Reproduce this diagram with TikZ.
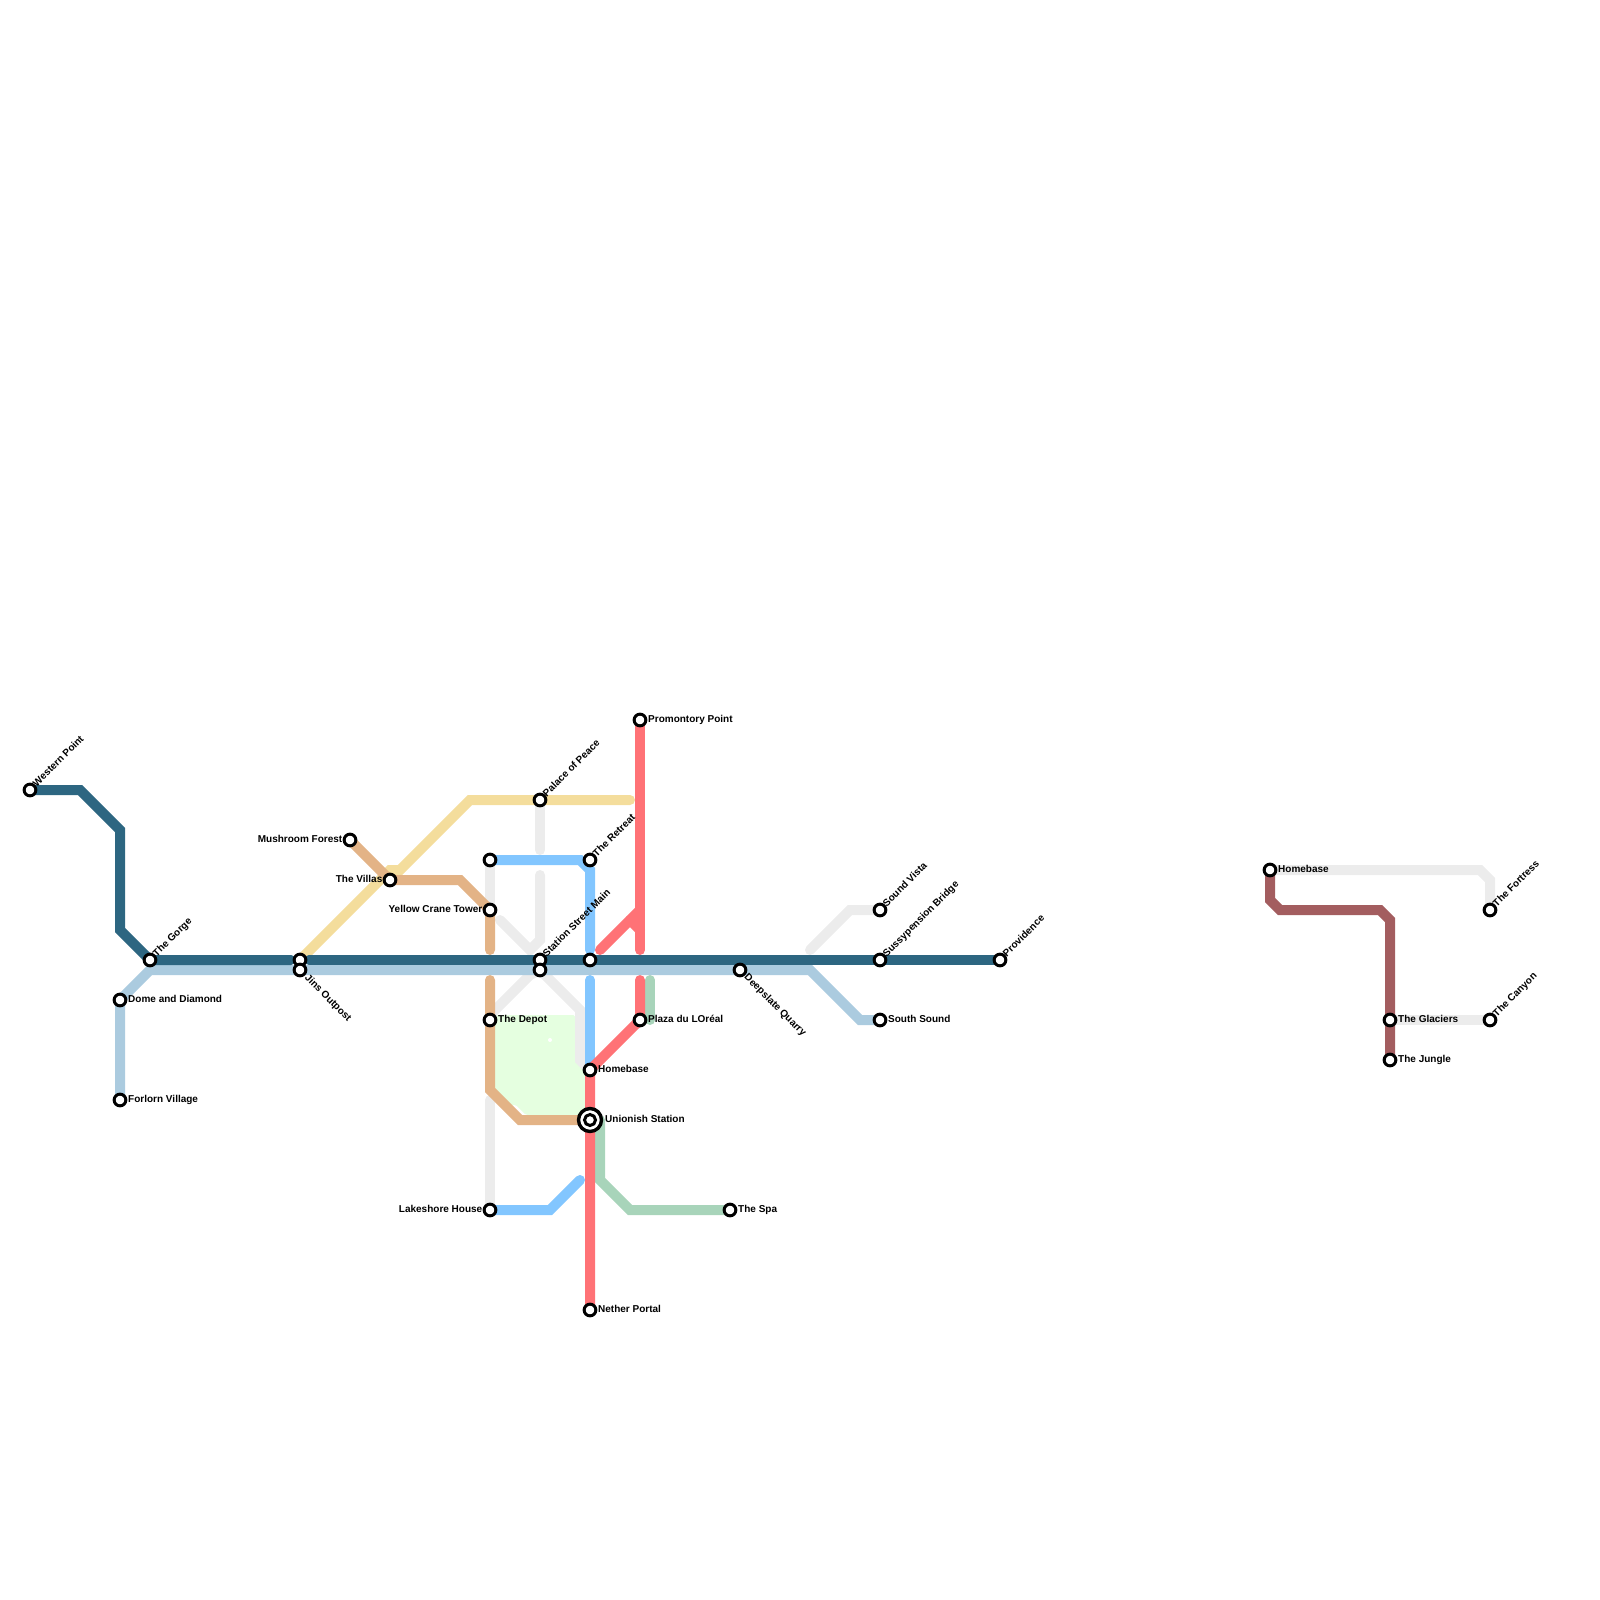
\documentclass[tikz,border=0pt]{standalone}
\usepackage{fontspec}
\setmainfont{Liberation Sans}
\definecolor{cteal}{HTML}{2D6681}
\definecolor{clblue}{HTML}{ABCBDF}
\definecolor{cyellow}{HTML}{F4DD9C}
\definecolor{corange}{HTML}{E3B386}
\definecolor{cgray}{HTML}{ECECEC}
\definecolor{cblue}{HTML}{82C6FF}
\definecolor{cred}{HTML}{FF7276}
\definecolor{cgreen}{HTML}{A8D4BA}
\definecolor{cbrown}{HTML}{A35D5F}
\definecolor{cmint}{HTML}{E5FFE0}
\tikzset{
 ln/.style={line width=10pt,line cap=round,line join=miter},
 st/.style={circle,draw=black,fill=white,line width=3pt,minimum size=11.7pt,inner sep=0pt},
 lab/.style={font=\bfseries\fontsize{10pt}{10pt}\selectfont,text=black,inner sep=0pt,text height=7pt,text depth=2pt},
 lr/.style={lab,anchor=west},
 ll/.style={lab,anchor=east},
 lu/.style={lab,anchor=west,rotate=45},
 ld/.style={lab,anchor=west,rotate=-45},
}
\begin{document}
\begin{tikzpicture}[x=1pt,y=-1pt]
\useasboundingbox (0,0) rectangle (1600,1600);
\path
 (30,790) coordinate (western) (150,960) coordinate (gorge) (300,960) coordinate (jinsA) (300,970) coordinate (jins)
 (540,960) coordinate (ssm) (540,970) coordinate (ssmB) (590,960) coordinate (sx) (590,860) coordinate (retreat)
 (640,720) coordinate (prom) (590,1070) coordinate (home) (590,1120) coordinate (union) (590,1310) coordinate (nether)
 (490,1210) coordinate (lake) (490,1020) coordinate (depot) (490,910) coordinate (crane) (490,860) coordinate (nw)
 (390,880) coordinate (villas) (350,840) coordinate (mush) (540,800) coordinate (palace) (640,1020) coordinate (plaza)
 (730,1210) coordinate (spa) (740,970) coordinate (deep) (880,910) coordinate (sound) (880,960) coordinate (suss)
 (880,1020) coordinate (south) (1000,960) coordinate (prov) (1270,870) coordinate (home2) (1490,910) coordinate (fort)
 (1390,1020) coordinate (glac) (1390,1060) coordinate (jung) (1490,1020) coordinate (cany) (120,1000) coordinate (dome)
 (120,1100) coordinate (forlorn);
% mint area
\fill[cmint,rounded corners=1.5pt] (495,1015) -- (575,1015) -- (575,1060) -- (585,1070) -- (585,1115) -- (526,1115) -- (516,1105) -- (502,1105) -- (495,1098) -- cycle;
\fill[white] (550,1040) circle (2pt);
% gray lines
\draw[ln,cgray] (nw) -- (crane);
\draw[ln,cgray] (500,920) -- (530,950) -- (540,940) -- (540,875);
\draw[ln,cgray] (palace) -- (540,850);
\draw[ln,cgray] (490,1015) -- (530,975) -- (ssmB) -- (580,1010) -- (580,1060) -- (home);
\draw[ln,cgray] (490,1100) -- (lake);
\draw[ln,cgray] (810,950) -- (850,910) -- (sound);
\draw[ln,cgray] (home2) -- (1480,870) -- (1490,880) -- (fort);
\draw[ln,cgray] (glac) -- (cany);
% yellow
\draw[ln,cyellow] (jinsA) -- (390,870) -- (400,870) -- (470,800) -- (630,800);
% orange
\draw[ln,corange] (mush) -- (villas) -- (460,880) -- (crane) -- (490,950);
\draw[ln,corange] (490,980) -- (depot) -- (490,1090) -- (520,1120) -- (union);
% green
\draw[ln,cgreen] (650,980) -- (650,1020);
\draw[ln,cgreen] (600,1120) -- (600,1180) -- (630,1210) -- (spa);
% blue
\draw[ln,cblue] (nw) -- (580,860) -- (590,870) -- (590,950);
\draw[ln,cblue] (590,980) -- (home);
\draw[ln,cblue] (lake) -- (550,1210) -- (580,1180);
% red
\draw[ln,cred] (prom) -- (640,950);
\draw[ln,cred] (600,950) -- (640,910);
\draw[ln,cred] (630,920) -- (640,930);
\draw[ln,cred] (640,980) -- (plaza) -- (home) -- (nether);
% light blue
\draw[ln,clblue,line cap=butt] (forlorn) -- (dome) -- (150,970) -- (810,970) -- (860,1020) -- (south);
% teal
\draw[ln,cteal,line cap=butt] (western) -- (80,790) -- (120,830) -- (120,930) -- (gorge) -- (291,960);
\draw[ln,cteal,line cap=butt] (309,960) -- (prov);
\fill[cteal] (291,960) circle (5pt) (309,960) circle (5pt);
% brown
\draw[ln,cbrown,line cap=butt] (home2) -- (1270,900) -- (1280,910) -- (1380,910) -- (1390,920) -- (jung);
% stations
\foreach \n/\c in {western/a,gorge/b,jinsA/c,jins/d,ssm/e,ssmB/f,sx/g,retreat/h,prom/i,home/j,nether/k,lake/l,depot/m,crane/n,nw/o,villas/p,mush/q,palace/r,plaza/s,spa/t,deep/u,sound/v,suss/w,south/x,prov/y,home2/z,fort/aa,glac/ab,jung/ac,cany/ad,dome/ae,forlorn/af}
  \node[st] (n\c) at (\n) {};
\node[circle,draw=black,fill=white,line width=3.4pt,minimum size=23pt,inner sep=0pt] (unionO) at (union) {};
\node[st,minimum size=11pt] (unionI) at (union) {};
% labels
\node[lu] (tWestern) at (35,785.5) {Western Point};
\node[lu] (tGorge) at (155,955.5) {The Gorge};
\node[ld] (tJins) at (306,976.5) {Jins Outpost};
\node[lr] (tDome) at (128,1000) {Dome and Diamond};
\node[lr] (tForlorn) at (128,1100) {Forlorn Village};
\node[ll] (tMush) at (342.5,840) {Mushroom Forest};
\node[ll] (tVillas) at (382.5,880) {The Villas};
\node[ll] (tCrane) at (482.5,910) {Yellow Crane Tower};
\node[lr] (tDepot) at (498,1020) {The Depot};
\node[ll] (tLake) at (482.5,1210) {Lakeshore House};
\node[lu] (tPalace) at (545,795.5) {Palace of Peace};
\node[lu] (tRetreat) at (595,855.5) {The Retreat};
\node[lu] (tSsm) at (545,955.5) {Station Street Main};
\node[lr] (tProm) at (648,720) {Promontory Point};
\node[lr] (tPlaza) at (648,1020) {Plaza du LOréal};
\node[lr] (tHome) at (598,1070) {Homebase};
\node[lr] (tUnion) at (605,1120) {Unionish Station};
\node[lr] (tNether) at (598,1310) {Nether Portal};
\node[lr] (tSpa) at (738,1210) {The Spa};
\node[ld] (tDeep) at (745.5,976) {Deepslate Quarry};
\node[lu] (tSound) at (885,905.5) {Sound Vista};
\node[lu] (tSuss) at (885,955.5) {Sussypension Bridge};
\node[lr] (tSouth) at (888,1020) {South Sound};
\node[lu] (tProv) at (1005,955.5) {Providence};
\node[lr] (tHome2) at (1278,870) {Homebase};
\node[lu] (tFort) at (1495,905.5) {The Fortress};
\node[lr] (tGlac) at (1398,1020) {The Glaciers};
\node[lr] (tJung) at (1398,1060) {The Jungle};
\node[lu] (tCany) at (1495,1015.5) {The Canyon};
\end{tikzpicture}
\end{document}
